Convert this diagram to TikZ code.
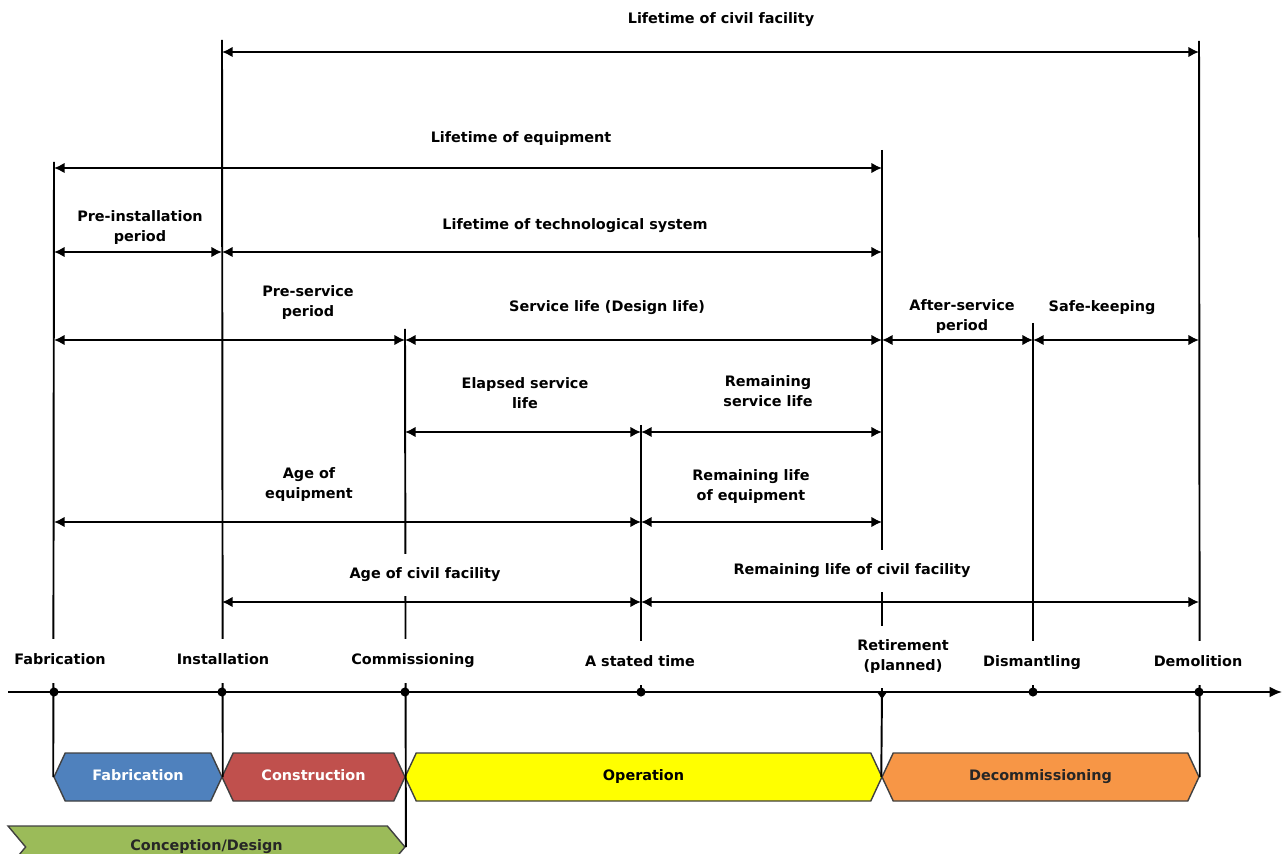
\documentclass[tikz,border=0pt]{standalone}
\usepackage{fontspec}
\setmainfont{DejaVu Sans}
\usetikzlibrary{arrows.meta,shapes.symbols}

\definecolor{fabblue}{HTML}{4F81BD}
\definecolor{conred}{HTML}{C0504D}
\definecolor{opyellow}{HTML}{FFFF00}
\definecolor{decorange}{HTML}{F79646}
\definecolor{desgreen}{HTML}{9BBB59}

\begin{document}
\begin{tikzpicture}[
    x=0.02cm, y=-0.02cm,
    every node/.style={font=\fontsize{8.2}{11.4}\selectfont\bfseries},
    span/.style={{Latex[length=6pt,width=6pt]}-{Latex[length=6pt,width=6pt]}, line width=1.1pt},
    vline/.style={line width=1.1pt},
    lbl/.style={fill=white, align=center, inner sep=2pt},
    ticklbl/.style={fill=white, align=center, inner xsep=2pt, inner ysep=8pt, text height=6.5pt, text depth=2pt},
    phase/.style={signal, signal to=east and west, signal pointer angle=130, draw=black!75, line width=0.8pt, minimum height=0.96cm, inner sep=0pt, text height=6.5pt, text depth=2pt}
  ]
    \useasboundingbox (0,0) rectangle (1284,854);
    \clip (0,0) rectangle (1284,854);

    % points on the time axis
    \coordinate (tFab) at (54,692);
    \coordinate (tInst) at (222,692);
    \coordinate (tComm) at (405,692);
    \coordinate (tNow) at (641,692);
    \coordinate (tRet) at (882,692);
    \coordinate (tDism) at (1033,692);
    \coordinate (tDemo) at (1199,692);
    \coordinate (axStart) at (8,692);
    \coordinate (axEnd) at (1282,692);

    % rows of the spans
    \coordinate (rCivil) at (0,52);
    \coordinate (rEquip) at (0,168);
    \coordinate (rTech) at (0,252);
    \coordinate (rServ) at (0,340);
    \coordinate (rElap) at (0,432);
    \coordinate (rAge) at (0,522);
    \coordinate (rCivAge) at (0,602);

    % tops of the vertical lines
    \coordinate (fabTop) at (54,162);
    \coordinate (instTop) at (222,40);
    \coordinate (commTop) at (405,329);
    \coordinate (nowTop) at (641,425);
    \coordinate (retTop) at (882,150);
    \coordinate (dismTop) at (1033,323);
    \coordinate (demoTop) at (1199,41);

    % phases
    \node[phase, fill=fabblue, text=white, minimum width=3.36cm] (phFab) at (138,777) {Fabrication};
    \node[phase, fill=conred, text=white, minimum width=3.66cm] (phCon) at (313.5,777) {Construction};
    \node[phase, fill=opyellow, minimum width=9.54cm] (phOp) at (643.5,777) {Operation};
    \node[phase, fill=decorange, text=black!85, minimum width=6.34cm] (phDec) at (1040.5,777) {Decommissioning};
    \node[phase, signal from=west, signal to=east, signal pointer angle=100, fill=desgreen, text=black!85, minimum width=7.94cm, minimum height=0.84cm] (phDes) at (206.5,847) {Conception/Design};

    % vertical lines
    \draw[vline] (fabTop) -- (phFab.west);
    \draw[vline] (instTop) -- (phFab.east);
    \draw[vline] (commTop) -- (phDes.east);
    \draw[vline] (nowTop) -- (tNow);
    \draw[vline] (retTop) -- (tRet);
    \draw[vline] (tRet) -- (phDec.west);
    \draw[vline] (dismTop) -- (tDism);
    \draw[vline] (demoTop) -- (phDec.east);

    % time axis
    \draw[-{Latex[length=7pt,width=6pt]}, line width=1.1pt] (axStart) -- (axEnd);
    \foreach \t in {tFab,tInst,tComm,tNow,tDism,tDemo}
      \fill (\t) circle[radius=2.6pt];
    \fill (tRet) ++(-5,0) -- ++(10,0) -- ++(-5,7) -- cycle;

    % spans
    \draw[span] (tInst |- rCivil) -- (tDemo |- rCivil);
    \draw[span] (tFab |- rEquip) -- (tRet |- rEquip);
    \draw[span] (tFab |- rTech) -- (tInst |- rTech);
    \draw[span] (tInst |- rTech) -- (tRet |- rTech);
    \draw[span] (tFab |- rServ) -- (tComm |- rServ);
    \draw[span] (tComm |- rServ) -- (tRet |- rServ);
    \draw[span] (tRet |- rServ) -- (tDism |- rServ);
    \draw[span] (tDism |- rServ) -- (tDemo |- rServ);
    \draw[span] (tComm |- rElap) -- (tNow |- rElap);
    \draw[span] (tNow |- rElap) -- (tRet |- rElap);
    \draw[span] (tFab |- rAge) -- (tNow |- rAge);
    \draw[span] (tNow |- rAge) -- (tRet |- rAge);
    \draw[span] (tInst |- rCivAge) -- (tNow |- rCivAge);
    \draw[span] (tNow |- rCivAge) -- (tDemo |- rCivAge);

    % span labels
    \node[lbl] (civilLife) at (721,20) {Lifetime of civil facility};
    \node[lbl] (equipLife) at (521,139) {Lifetime of equipment};
    \node[lbl] (preInst) at (140,228) {Pre-installation\\period};
    \node[lbl] (techLife) at (575,226) {Lifetime of technological system};
    \node[lbl] (preServ) at (308,303) {Pre-service\\period};
    \node[lbl] (servLife) at (607,308) {Service life (Design life)};
    \node[lbl] (afterServ) at (962,317) {After-service\\period};
    \node[lbl] (safeKeep) at (1102,308) {Safe-keeping};
    \node[lbl] (elapsed) at (525,393) {Elapsed service\\life};
    \node[lbl] (remServ) at (768,391) {Remaining\\service life};
    \node[lbl] (ageEquip) at (309,485) {Age of\\equipment};
    \node[lbl] (remEquip) at (751,487) {Remaining life\\of equipment};
    \node[lbl, inner ysep=8pt] (ageCivil) at (425,575) {Age of civil facility};
    \node[lbl, inner ysep=8pt] (remCivil) at (852,571) {Remaining life of civil facility};

    % events
    \node[ticklbl] (evFab) at (60,661) {Fabrication};
    \node[ticklbl] (evInst) at (223,661) {Installation};
    \node[ticklbl] (evComm) at (413,661) {Commissioning};
    \node[ticklbl] (evNow) at (640,663) {A stated time};
    \node[lbl, inner ysep=8pt] (evRet) at (903,657) {Retirement\\(planned)};
    \node[ticklbl] (evDism) at (1032,663) {Dismantling};
    \node[ticklbl] (evDemo) at (1198,663) {Demolition};
  \end{tikzpicture}
\end{document}
